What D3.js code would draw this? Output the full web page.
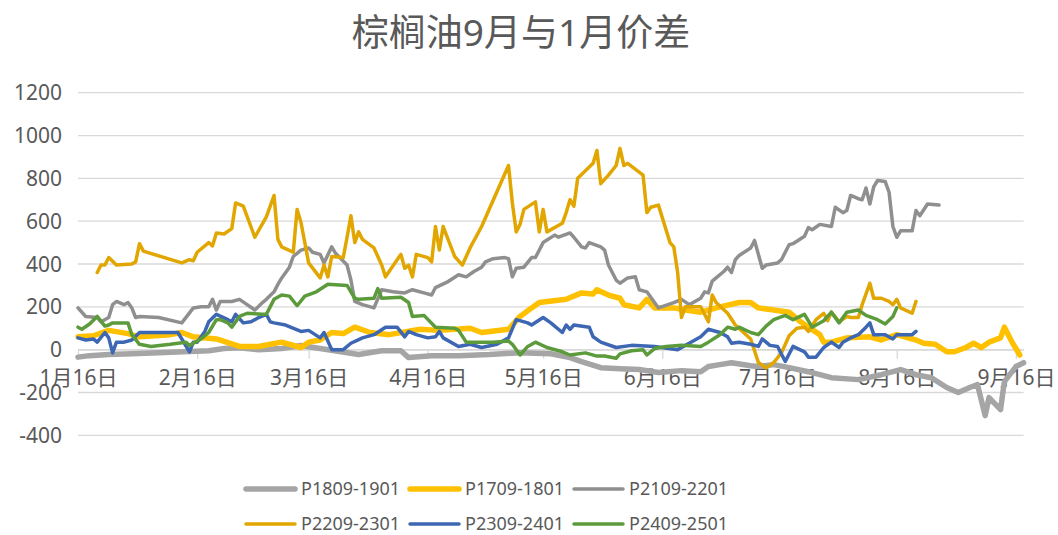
<!DOCTYPE html>
<html>
<head>
<meta charset="utf-8">
<script src="https://cdn.jsdelivr.net/npm/d3@7.9.0/dist/d3.min.js"></script>
<style>
  body { margin: 0; background: #fff; }
  svg { display: block; font-family: "Noto Sans", "Noto Sans CJK SC", sans-serif; }
</style>
</head>
<body>
<svg id="chart" width="1058" height="535"></svg>
<script>
// chart text
const title = "棕榈油9月与1月价差";
const seriesNames = ["P1809-1901", "P1709-1801", "P2109-2201", "P2209-2301", "P2309-2401", "P2409-2501"];
const yTicks = [-400, -200, 0, 200, 400, 600, 800, 1000, 1200];
const xTicks = ["01-16", "02-16", "03-16", "04-16", "05-16", "06-16", "07-16", "08-16", "09-16"];
const xDomain = ["01-16", "09-18"];

// spreads, [month-day, value]
const p1809 = [["01-16",-35],["01-19",-28],["01-24",-23],["01-30",-19],["02-06",-14],["02-14",-9],["02-19",-5],["02-23",5],["02-27",9],["03-03",0],["03-09",5],["03-14",19],["03-19",5],["03-24",-9],["03-29",-23],["04-04",-5],["04-09",-5],["04-11",-37],["04-17",-28],["04-24",-28],["05-02",-23],["05-10",-14],["05-18",-19],["05-23",-37],["05-26",-56],["05-31",-84],["06-05",-89],["06-10",-93],["06-15",-107],["06-21",-98],["06-26",-103],["06-28",-79],["07-01",-70],["07-04",-61],["07-09",-75],["07-11",-79],["07-15",-70],["07-19",-84],["07-24",-103],["07-30",-131],["08-06",-140],["08-12",-117],["08-17",-93],["08-21",-117],["08-25",-131],["08-29",-177],["09-01",-200],["09-04",-177],["09-06",-163],["09-08",-308],["09-09",-224],["09-12",-280],["09-13",-149],["09-16",-79],["09-18",-61]];

const p1709 = [["01-16",60],["01-20",65],["01-24",90],["01-29",75],["02-01",60],["02-09",70],["02-12",80],["02-15",60],["02-21",50],["02-27",15],["03-03",15],["03-06",25],["03-09",35],["03-14",10],["03-16",35],["03-19",45],["03-22",80],["03-25",75],["03-28",105],["04-01",80],["04-06",70],["04-14",95],["04-19",90],["04-27",100],["04-30",80],["05-07",95],["05-10",155],["05-13",195],["05-15",220],["05-22",235],["05-26",265],["05-29",260],["05-30",280],["06-02",255],["06-05",240],["06-06",210],["06-10",195],["06-12",235],["06-14",195],["06-19",195],["06-22",185],["06-26",175],["07-01",200],["07-06",220],["07-09",220],["07-11",195],["07-15",185],["07-19",175],["07-22",130],["07-24",105],["07-27",70],["07-28",35],["07-30",35],["08-03",55],["08-09",60],["08-12",45],["08-16",70],["08-21",45],["08-23",30],["08-26",25],["08-29",-10],["08-31",-10],["09-03",10],["09-05",30],["09-07",10],["09-09",35],["09-12",55],["09-13",105],["09-15",35],["09-17",-25]];

const p2109 = [["01-16",195],["01-18",155],["01-21",150],["01-22",130],["01-24",150],["01-25",210],["01-26",225],["01-28",210],["01-29",220],["01-30",195],["01-31",150],["02-01",155],["02-06",150],["02-12",125],["02-15",195],["02-17",200],["02-19",200],["02-20",235],["02-21",185],["02-22",225],["02-25",225],["02-27",235],["02-29",210],["03-02",185],["03-04",220],["03-05",235],["03-07",270],["03-08",305],["03-09",335],["03-11",385],["03-12",435],["03-14",465],["03-16",475],["03-17",455],["03-19",445],["03-20",405],["03-22",480],["03-23",450],["03-26",395],["03-27",325],["03-28",225],["03-30",210],["04-02",195],["04-04",280],["04-07",270],["04-10",265],["04-12",280],["04-15",265],["04-17",255],["04-18",290],["04-21",315],["04-24",350],["04-26",340],["04-28",365],["04-30",385],["05-01",410],["05-03",425],["05-06",430],["05-07",425],["05-08",340],["05-09",380],["05-11",385],["05-13",430],["05-14",430],["05-16",500],["05-19",535],["05-20",525],["05-23",545],["05-24",525],["05-26",480],["05-27",475],["05-28",500],["05-31",480],["06-01",465],["06-02",395],["06-04",325],["06-05",310],["06-07",335],["06-09",340],["06-10",280],["06-12",270],["06-15",195],["06-19",220],["06-21",235],["06-23",210],["06-26",240],["06-27",270],["06-28",265],["06-29",320],["06-30",335],["07-02",365],["07-03",385],["07-04",360],["07-05",420],["07-06",440],["07-09",475],["07-10",510],["07-12",380],["07-13",395],["07-16",405],["07-17",420],["07-19",490],["07-20",495],["07-23",530],["07-24",570],["07-25",560],["07-27",585],["07-30",575],["07-31",665],["08-02",640],["08-03",650],["08-04",720],["08-06",705],["08-07",700],["08-08",755],["08-09",680],["08-10",760],["08-11",790],["08-13",785],["08-14",735],["08-15",575],["08-16",525],["08-17",555],["08-20",555],["08-21",650],["08-22",625],["08-24",680],["08-27",675]];

const p2209 = [["01-21",360],["01-22",395],["01-23",395],["01-24",430],["01-26",395],["01-30",400],["01-31",410],["02-01",495],["02-02",460],["02-12",405],["02-14",420],["02-15",415],["02-16",455],["02-19",500],["02-20",485],["02-21",545],["02-23",540],["02-25",565],["02-26",685],["02-28",670],["03-02",525],["03-05",620],["03-07",720],["03-08",515],["03-09",480],["03-12",455],["03-13",655],["03-14",595],["03-16",405],["03-19",335],["03-20",395],["03-21",340],["03-22",435],["03-25",430],["03-26",525],["03-27",625],["03-28",500],["03-29",550],["03-30",515],["04-02",475],["04-04",395],["04-05",340],["04-09",445],["04-10",380],["04-11",395],["04-12",340],["04-13",445],["04-16",430],["04-17",410],["04-18",575],["04-19",465],["04-20",575],["04-23",435],["04-25",395],["04-27",475],["04-30",575],["05-07",860],["05-08",685],["05-09",550],["05-10",585],["05-11",655],["05-14",690],["05-15",550],["05-16",655],["05-17",550],["05-21",590],["05-22",640],["05-23",700],["05-24",670],["05-25",800],["05-29",870],["05-30",930],["05-31",775],["06-02",815],["06-04",860],["06-05",940],["06-06",860],["06-07",870],["06-11",815],["06-12",640],["06-13",665],["06-15",675],["06-18",500],["06-19",480],["06-20",360],["06-21",150],["06-22",200],["06-24",200],["06-26",200],["06-28",130],["06-29",255],["06-30",220],["07-03",170],["07-05",115],["07-09",50],["07-11",-60],["07-13",-85],["07-15",-60],["07-17",-15],["07-19",65],["07-21",100],["07-23",105],["07-24",85],["07-26",140],["07-28",170],["07-29",135],["07-30",175],["08-01",130],["08-03",155],["08-04",150],["08-06",150],["08-07",210],["08-09",310],["08-10",240],["08-12",240],["08-14",225],["08-15",210],["08-16",235],["08-17",195],["08-20",170],["08-21",225]];

const p2309 = [["01-16",55],["01-18",45],["01-20",50],["01-21",35],["01-23",80],["01-24",55],["01-25",-15],["01-26",35],["01-28",35],["01-30",45],["02-01",80],["02-11",80],["02-14",-10],["02-15",35],["02-16",35],["02-18",85],["02-19",130],["02-21",165],["02-24",140],["02-25",130],["02-26",165],["02-28",125],["03-01",130],["03-03",150],["03-05",165],["03-06",130],["03-07",125],["03-10",115],["03-14",85],["03-16",90],["03-19",55],["03-20",80],["03-22",0],["03-25",0],["03-27",30],["03-30",55],["04-02",70],["04-05",105],["04-08",105],["04-10",60],["04-11",85],["04-13",70],["04-16",55],["04-18",60],["04-19",85],["04-20",55],["04-24",15],["04-27",25],["04-30",10],["05-04",25],["05-07",55],["05-09",140],["05-12",125],["05-13",115],["05-16",150],["05-18",125],["05-21",80],["05-22",115],["05-23",95],["05-24",115],["05-28",105],["05-29",60],["05-31",35],["06-04",10],["06-08",20],["06-14",15],["06-20",0],["06-23",30],["06-26",60],["06-28",95],["07-01",80],["07-03",60],["07-04",30],["07-06",35],["07-09",25],["07-11",15],["07-12",50],["07-14",20],["07-16",15],["07-18",-55],["07-20",15],["07-23",-10],["07-24",-35],["07-26",-35],["07-28",10],["07-30",35],["08-01",10],["08-02",35],["08-04",55],["08-06",70],["08-08",105],["08-09",125],["08-10",70],["08-13",70],["08-15",50],["08-16",70],["08-20",70],["08-21",85]];

const p2409 = [["01-16",105],["01-17",95],["01-19",120],["01-21",155],["01-23",110],["01-24",115],["01-25",125],["01-29",125],["01-30",70],["02-01",25],["02-04",15],["02-09",25],["02-13",35],["02-14",20],["02-17",50],["02-19",80],["02-21",140],["02-22",140],["02-24",125],["02-25",105],["02-27",155],["02-29",170],["03-04",165],["03-05",165],["03-07",235],["03-09",255],["03-11",250],["03-13",205],["03-15",250],["03-18",270],["03-21",305],["03-26",300],["03-28",240],["03-29",235],["04-02",240],["04-03",285],["04-04",240],["04-09",245],["04-11",220],["04-12",155],["04-15",160],["04-18",105],["04-23",100],["04-24",90],["04-26",35],["04-29",35],["05-03",35],["05-07",40],["05-08",25],["05-10",-25],["05-12",15],["05-14",35],["05-17",10],["05-21",-10],["05-23",-25],["05-27",-15],["05-30",-30],["06-01",-30],["06-04",-40],["06-05",-20],["06-08",-5],["06-11",0],["06-12",-25],["06-14",5],["06-17",15],["06-21",20],["06-26",15],["06-28",35],["07-01",70],["07-03",105],["07-05",95],["07-06",105],["07-09",80],["07-11",70],["07-13",110],["07-15",140],["07-18",160],["07-20",140],["07-23",165],["07-25",105],["07-28",135],["07-30",175],["08-01",125],["08-03",175],["08-06",185],["08-08",160],["08-11",140],["08-13",120],["08-15",155],["08-16",195]];

const seriesData = [p1809, p1709, p2109, p2209, p2309, p2409];
const colors = ["#a5a5a5", "#ffc000", "#8f8f8f", "#e2a600", "#3d66b3", "#5c9b3b"];
const widths = [5.5, 5.5, 3.5, 3.5, 3.5, 3.5];

const parseDay = s => d3.timeParse("%Y-%m-%d")("2024-" + s);
const fmt = d3.timeFormat("%-m月%-d日");

const svg = d3.select("#chart");
const plotLeft = 78, plotRight = 1023.6, plotTop = 92.7, plotBottom = 435.3;

const x = d3.scaleTime()
    .domain(xDomain.map(parseDay))
    .range([plotLeft, plotRight]);

const y = d3.scaleLinear()
    .domain([d3.min(yTicks), d3.max(yTicks)])
    .range([plotBottom, plotTop]);

// gridlines
svg.append("g")
    .selectAll("line")
    .data(yTicks)
    .enter().append("line")
    .attr("x1", plotLeft).attr("x2", plotRight)
    .attr("y1", d => y(d)).attr("y2", d => y(d))
    .attr("stroke", "#d9d9d9")
    .attr("stroke-width", 1.3);

// y labels
svg.append("g")
    .selectAll("text")
    .data(yTicks)
    .enter().append("text")
    .attr("x", 62)
    .attr("y", d => y(d))
    .attr("dy", "0.36em")
    .attr("text-anchor", "end")
    .attr("fill", "#595959")
    .style("font-size", "21px")
    .text(d => d);

// x axis sits on the zero line
const xAxis = d3.axisBottom(x)
    .tickValues(xTicks.map(parseDay))
    .tickFormat(fmt)
    .tickSize(9)
    .tickPadding(11)
    .tickSizeOuter(0);

const gx = svg.append("g")
    .attr("transform", `translate(0,${y(0)})`)
    .call(xAxis);
gx.select(".domain").attr("stroke", "#d9d9d9").attr("stroke-width", 1.3);
gx.selectAll(".tick line").attr("stroke", "#d9d9d9").attr("stroke-width", 1.3);
gx.selectAll(".tick text")
    .attr("fill", "#595959")
    .style("font-size", "21px")
    .style("font-family", "\"Noto Sans\", \"Noto Sans CJK SC\", sans-serif");

// series lines
const line = d3.line()
    .x(d => x(parseDay(d[0])))
    .y(d => y(d[1]));

svg.append("g")
    .selectAll("path")
    .data(seriesData)
    .enter().append("path")
    .attr("d", line)
    .attr("fill", "none")
    .attr("stroke", (d, i) => colors[i])
    .attr("stroke-width", (d, i) => widths[i])
    .attr("stroke-linejoin", "round")
    .attr("stroke-linecap", "round");

// title
svg.append("text")
    .attr("x", 521)
    .attr("y", 33)
    .attr("dy", "0.35em")
    .attr("text-anchor", "middle")
    .attr("fill", "#595959")
    .style("font-size", "37px")
    .text(title);

// legend, 3 per row
const legend = svg.append("g")
    .selectAll("g")
    .data(seriesNames)
    .enter().append("g")
    .attr("transform", (d, i) => `translate(${246 + (i % 3) * 164},${489 + Math.floor(i / 3) * 35})`);

legend.append("line")
    .attr("x1", 0).attr("x2", 49)
    .attr("stroke", (d, i) => colors[i])
    .attr("stroke-width", (d, i) => widths[i])
    .attr("stroke-linecap", "round");

legend.append("text")
    .attr("x", 55)
    .attr("dy", "0.36em")
    .attr("fill", "#595959")
    .style("font-size", "18px")
    .text(d => d);
</script>
</body>
</html>
